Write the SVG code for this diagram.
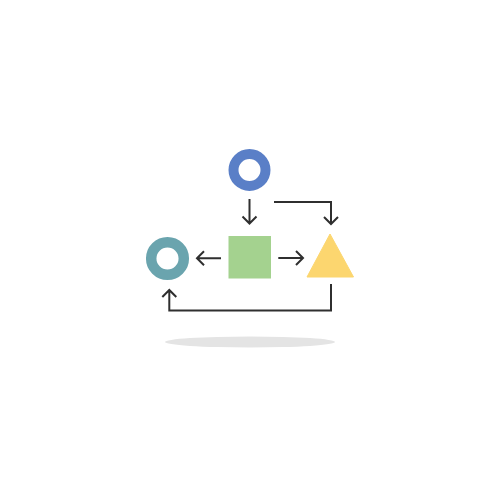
<svg xmlns="http://www.w3.org/2000/svg" width="500" height="500" viewBox="0 0 500 500">
<style>
.c{fill:none;stroke:#2f2f2f;stroke-width:2;stroke-linecap:butt;stroke-linejoin:miter}
</style>
<rect width="500" height="500" fill="#ffffff"/>
<ellipse cx="250" cy="342" rx="85" ry="5.5" fill="#e4e4e4"/>
<g id="top-circle"><circle cx="249.5" cy="170" r="16" fill="none" stroke="#5a7fc7" stroke-width="10"/></g>
<g id="left-circle"><circle cx="167.5" cy="258.5" r="16.3" fill="none" stroke="#6aa4ae" stroke-width="10.5"/></g>
<g id="square"><rect x="228.5" y="236" width="42.5" height="42.5" fill="#a4d28f"/></g>
<g id="triangle"><polygon points="330,234 353.5,277 307,277" fill="#fcd66f" stroke="#fcd66f" stroke-width="1" stroke-linejoin="round"/></g>
<g id="connectors">
<path class="c" d="M249.5 199 V223.5 M242.5 216.5 L249.5 223.5 L256.5 216.5"/>
<path class="c" d="M274 202 H331 V224 M324 217 L331 224 L338 217"/>
<path class="c" d="M221 258.3 H197 M204 251.3 L197 258.3 L204 265.3"/>
<path class="c" d="M278.3 258 H303 M296 251 L303 258 L296 265"/>
<path class="c" d="M331 284 V310.5 H169.3 V290 M162.3 297 L169.3 290 L176.3 297"/>
</g>
</svg>
